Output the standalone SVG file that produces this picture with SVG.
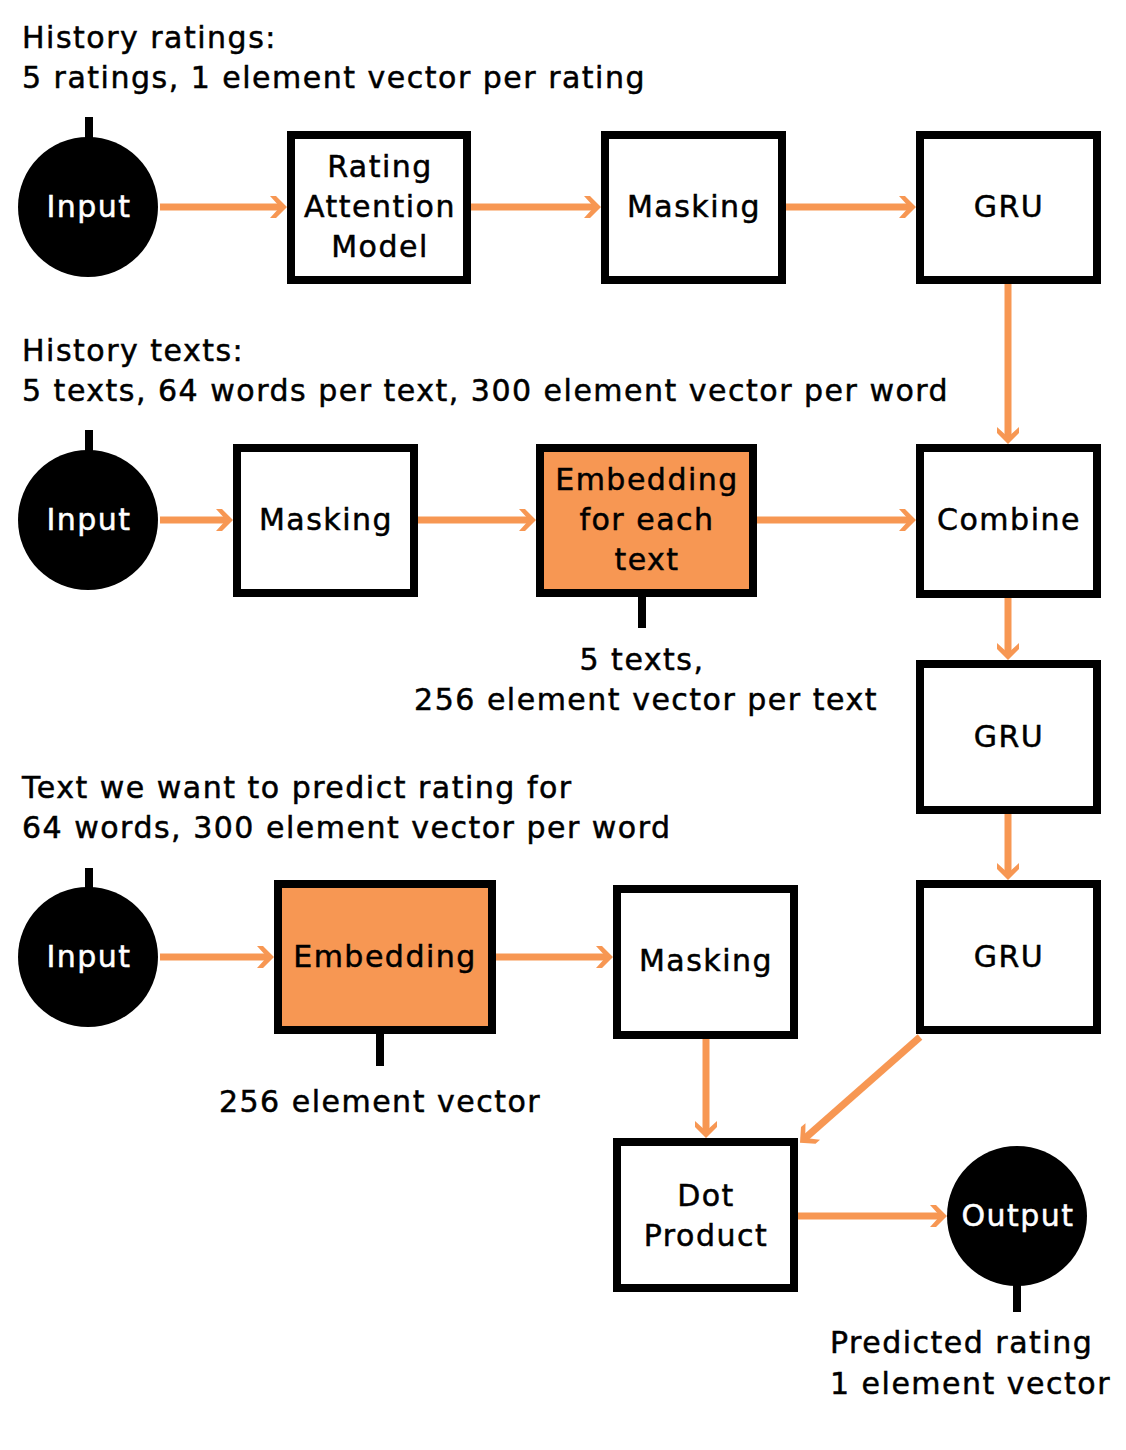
<svg xmlns="http://www.w3.org/2000/svg" width="1126" height="1450" viewBox="0 0 1126 1450">
<style>
text{font-family:"DejaVu Sans","Noto Sans",sans-serif;font-size:30px;letter-spacing:1.5px;fill:#000;stroke:#000;stroke-width:0.5px}
.c{text-anchor:middle}
.w{fill:#fff;stroke:#fff}
.box{fill:#fff;stroke:#000;stroke-width:8}
.obox{fill:#F79753;stroke:#000;stroke-width:8}
.circ{fill:#000}
.stem{stroke:#000;stroke-width:8}
.arr{stroke:#F79753;stroke-width:7;fill:none;marker-end:url(#ah)}
</style>
<defs>
<marker id="ah" markerUnits="userSpaceOnUse" markerWidth="40" markerHeight="40" viewBox="-20 -20 40 40" refX="-4" refY="0" orient="auto">
<path d="M0,0 L-11,-11 L-17,-11 L-7,0 L-17,11 L-11,11 Z" fill="#F79753"/>
</marker>
</defs>
<rect width="1126" height="1450" fill="#fff"/>
<g id="labels">
<text x="22" y="48">History ratings:</text>
<text x="22" y="88">5 ratings, 1 element vector per rating</text>
<text x="22" y="361">History texts:</text>
<text x="22" y="401">5 texts, 64 words per text, 300 element vector per word</text>
<text x="22" y="798">Text we want to predict rating for</text>
<text x="22" y="838">64 words, 300 element vector per word</text>
<text class="c" x="642" y="670">5 texts,</text>
<text class="c" x="646" y="710">256 element vector per text</text>
<text class="c" x="380" y="1112">256 element vector</text>
<text x="830" y="1353">Predicted rating</text>
<text x="830" y="1394">1 element vector</text>
</g>
<g id="connectors">
<line class="arr" x1="160" y1="207" x2="283" y2="207"/>
<line class="arr" x1="471" y1="207" x2="597" y2="207"/>
<line class="arr" x1="786" y1="207" x2="912" y2="207"/>
<line class="arr" x1="1008" y1="284" x2="1008" y2="440"/>
<line class="arr" x1="160" y1="520" x2="229" y2="520"/>
<line class="arr" x1="418" y1="520" x2="532" y2="520"/>
<line class="arr" x1="757" y1="520" x2="912" y2="520"/>
<line class="arr" x1="1008" y1="598" x2="1008" y2="656"/>
<line class="arr" x1="1008" y1="814" x2="1008" y2="876"/>
<line class="arr" x1="160" y1="957" x2="270" y2="957"/>
<line class="arr" x1="496" y1="957" x2="609" y2="957"/>
<line class="arr" x1="706" y1="1039" x2="706" y2="1134"/>
<line class="arr" x1="920" y1="1037" x2="803" y2="1140"/>
<line class="arr" x1="798" y1="1216" x2="943" y2="1216"/>
</g>
<g id="input1">
<line class="stem" x1="89" y1="117" x2="89" y2="145"/>
<circle class="circ" cx="88" cy="207" r="70"/>
<text class="c w" x="89" y="217">Input</text>
</g>
<g id="rating-attention">
<rect class="box" x="291" y="135" width="176" height="145"/>
<text class="c" x="380" y="177">Rating</text>
<text class="c" x="380" y="217">Attention</text>
<text class="c" x="380" y="257">Model</text>
</g>
<g id="masking1">
<rect class="box" x="605" y="135" width="177" height="145"/>
<text class="c" x="694" y="217">Masking</text>
</g>
<g id="gru1">
<rect class="box" x="920" y="135" width="177" height="145"/>
<text class="c" x="1009" y="217">GRU</text>
</g>
<g id="input2">
<line class="stem" x1="89" y1="430" x2="89" y2="458"/>
<circle class="circ" cx="88" cy="520" r="70"/>
<text class="c w" x="89" y="530">Input</text>
</g>
<g id="masking2">
<rect class="box" x="237" y="448" width="177" height="145"/>
<text class="c" x="326" y="530">Masking</text>
</g>
<g id="embedding-each">
<rect class="obox" x="540" y="448" width="213" height="145"/>
<line class="stem" x1="642" y1="597" x2="642" y2="628"/>
<text class="c" x="647" y="490">Embedding</text>
<text class="c" x="647" y="530">for each</text>
<text class="c" x="647" y="570">text</text>
</g>
<g id="combine">
<rect class="box" x="920" y="448" width="177" height="146"/>
<text class="c" x="1009" y="530">Combine</text>
</g>
<g id="gru2">
<rect class="box" x="920" y="664" width="177" height="146"/>
<text class="c" x="1009" y="747">GRU</text>
</g>
<g id="gru3">
<rect class="box" x="920" y="884" width="177" height="146"/>
<text class="c" x="1009" y="967">GRU</text>
</g>
<g id="input3">
<line class="stem" x1="89" y1="868" x2="89" y2="895"/>
<circle class="circ" cx="88" cy="957" r="70"/>
<text class="c w" x="89" y="967">Input</text>
</g>
<g id="embedding">
<rect class="obox" x="278" y="884" width="214" height="146"/>
<line class="stem" x1="380" y1="1034" x2="380" y2="1066"/>
<text class="c" x="385" y="967">Embedding</text>
</g>
<g id="masking3">
<rect class="box" x="617" y="889" width="177" height="146"/>
<text class="c" x="706" y="971">Masking</text>
</g>
<g id="dot-product">
<rect class="box" x="617" y="1142" width="177" height="146"/>
<text class="c" x="706" y="1206">Dot</text>
<text class="c" x="706" y="1246">Product</text>
</g>
<g id="output">
<line class="stem" x1="1017" y1="1280" x2="1017" y2="1312"/>
<circle class="circ" cx="1017" cy="1216" r="70"/>
<text class="c w" x="1018" y="1226">Output</text>
</g>
</svg>
